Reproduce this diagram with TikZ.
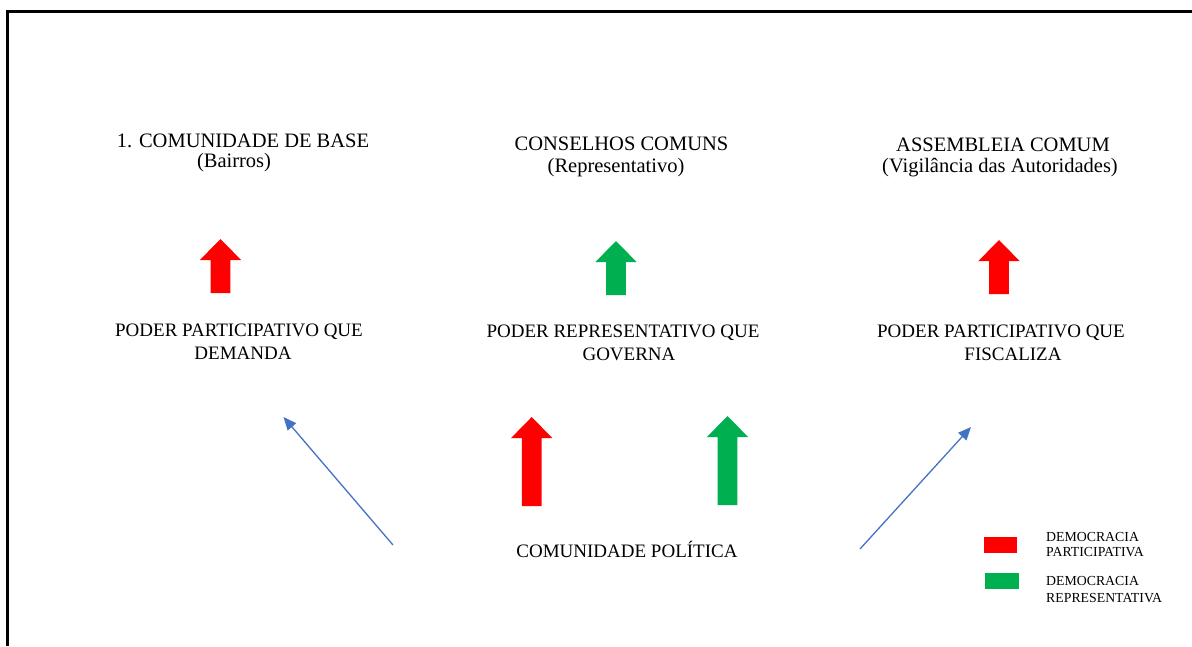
\documentclass[tikz,border=0pt]{standalone}
\usepackage{fontspec}
\setmainfont{Liberation Serif}
\usetikzlibrary{arrows.meta}
\definecolor{redA}{HTML}{FF0000}
\definecolor{greenA}{HTML}{00B050}
\definecolor{blueA}{HTML}{4472C4}
\tikzset{
  pics/blockup/.style 2 args={code={
    \fill[#1] (-9.8,0) -- (-9.8,-#2+21) -- (-20.6,-#2+21) -- (0,-#2)
      -- (20.6,-#2+21) -- (9.8,-#2+21) -- (9.8,0) -- cycle;
  }},
  title/.style={font=\fontsize{20.5}{24}\selectfont, anchor=base, inner sep=0pt},
  body/.style={font=\fontsize{19}{22}\selectfont, anchor=base, inner sep=0pt},
  legtext/.style={font=\fontsize{13.8}{16}\selectfont, anchor=base west, inner sep=0pt},
  legbox/.style={inner sep=0pt, minimum width=33.5pt, minimum height=16pt, draw=none},
  link/.style={blueA, line width=1.3pt, -{Triangle[length=13pt,width=11pt]}}
}
\begin{document}
\begin{tikzpicture}[x=1pt,y=-1pt]
\useasboundingbox (0,0) rectangle (1192,646);
% frame
\draw[line width=2.6pt] (7.2,646) -- (7.2,11.3) -- (1192,11.3);

% titles
\node[title] (t1a) at (243,147) {1. COMUNIDADE DE BASE};
\node[title] (t1b) at (234,167) {(Bairros)};
\node[title] (t2a) at (621.5,150) {CONSELHOS COMUNS};
\node[title] (t2b) at (616,172) {(Representativo)};
\node[title] (t3a) at (1003,151) {ASSEMBLEIA COMUM};
\node[title] (t3b) at (1000,172) {(Vigilância das Autoridades)};

% small arrows
\pic at (220.5,293) {blockup={redA}{54}};
\pic at (616,295) {blockup={greenA}{54}};
\pic at (999,294) {blockup={redA}{54}};

% body texts
\node[body] (b1a) at (239,336) {PODER PARTICIPATIVO QUE};
\node[body] (b1b) at (243,359) {DEMANDA};
\node[body] (b2a) at (623,337) {PODER REPRESENTATIVO QUE};
\node[body] (b2b) at (629,360) {GOVERNA};
\node[body] (b3a) at (1001,337) {PODER PARTICIPATIVO QUE};
\node[body] (b3b) at (1013,360) {FISCALIZA};

% big arrows
\pic at (531.7,506) {blockup={redA}{89}};
\pic at (727.5,505) {blockup={greenA}{89}};

% community
\node[body] (cp) at (627,557) {COMUNIDADE POLÍTICA};

% blue connectors
\coordinate (l0) at (393,545);
\coordinate (l1) at (283.5,417);
\coordinate (r0) at (860,549);
\coordinate (r1) at (971,427);
\draw[link] (l0) -- (l1);
\draw[link] (r0) -- (r1);

% legend
\node[legbox, fill=redA] (lr) at (1000.5,545) {};
\node[legbox, fill=greenA] (lg) at (1001.8,581) {};
\node[legtext] (lt1) at (1046,541) {DEMOCRACIA};
\node[legtext] (lt2) at (1046,556.5) {PARTICIPATIVA};
\node[legtext] (lt3) at (1046,585) {DEMOCRACIA};
\node[legtext] (lt4) at (1046,602) {REPRESENTATIVA};
\end{tikzpicture}
\end{document}
